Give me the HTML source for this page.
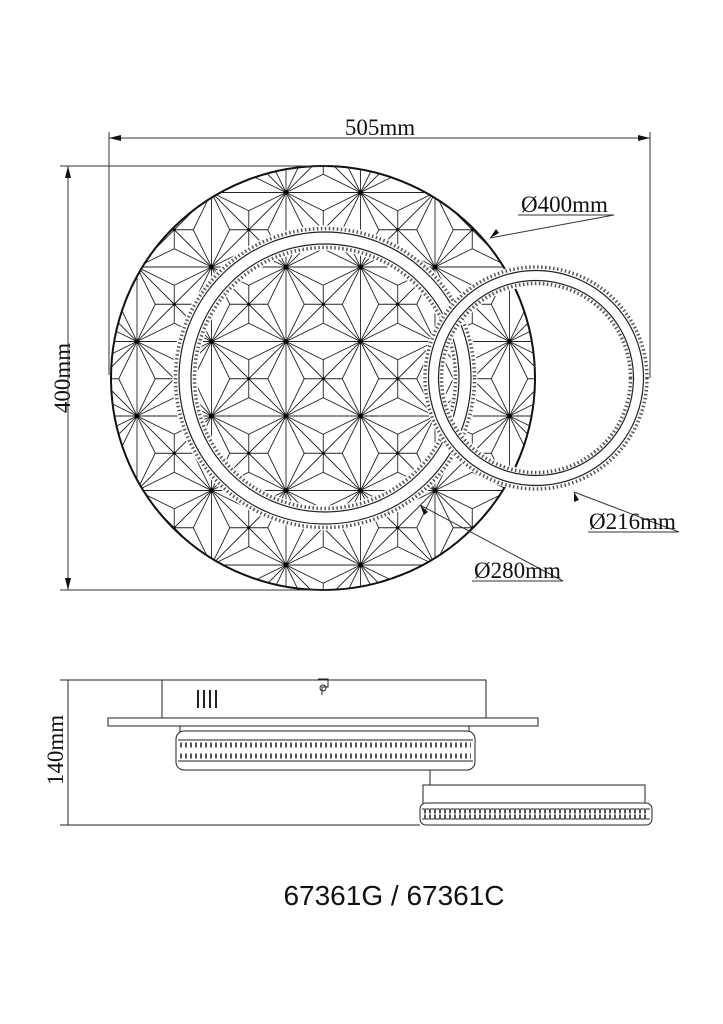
<!DOCTYPE html>
<html><head><meta charset="utf-8"><style>
html,body{margin:0;padding:0;background:#fff}
svg{display:block}
.t{font-family:"Liberation Serif",serif;font-size:23px;fill:#111}
</style></head><body>
<svg width="723" height="1024" viewBox="0 0 723 1024" xmlns="http://www.w3.org/2000/svg">
<defs>
<pattern id="pt" patternUnits="userSpaceOnUse" x="137" y="192.5" width="74.5" height="74.5">
<g stroke="#222" stroke-width="0.9" fill="none">
<path d="M0 0H74.5M0 0V74.5M0 74.5H74.5M74.5 0V74.5"/>
<path d="M0 0L37.25 37.25M74.5 0L37.25 37.25M0 74.5L37.25 37.25M74.5 74.5L37.25 37.25"/>
<path d="M0 0L37.25 18.25L74.5 0M0 0L18.25 37.25L0 74.5M74.5 0L56.25 37.25L74.5 74.5M0 74.5L37.25 56.25L74.5 74.5"/>
<path d="M37.25 18.25V56.25M18.25 37.25H56.25"/>
</g>
<circle cx="0" cy="0" r="2.3" fill="#000"/><circle cx="74.5" cy="0" r="2.3" fill="#000"/>
<circle cx="0" cy="74.5" r="2.3" fill="#000"/><circle cx="74.5" cy="74.5" r="2.3" fill="#000"/>
<circle cx="37.25" cy="37.25" r="1.5" fill="#000"/>
</pattern>
</defs>

<circle cx="323" cy="378" r="212" fill="url(#pt)"/>
<circle cx="323" cy="378" r="212" fill="none" stroke="#111" stroke-width="2"/>

<!-- ring 280 -->
<g fill="none" stroke="#222">
<circle cx="325" cy="378" r="140" stroke="#fff" stroke-width="14"/>
<circle cx="325" cy="378" r="149" stroke="#fff" stroke-width="7"/>
<circle cx="325" cy="378" r="131" stroke="#fff" stroke-width="7"/>
<circle cx="325" cy="378" r="146" stroke-width="1.2"/>
<circle cx="325" cy="378" r="134" stroke-width="1.2"/>
<circle cx="325" cy="378" r="149.5" stroke-width="3.5" stroke-dasharray="1.5 2.5" stroke="#555"/>
<circle cx="325" cy="378" r="130.5" stroke-width="3.5" stroke-dasharray="1.5 2.5" stroke="#555"/>
</g>

<!-- ring 216 -->
<g fill="none" stroke="#222">
<circle cx="536" cy="378" r="102.5" stroke="#fff" stroke-width="11"/>
<circle cx="536" cy="378" r="110" stroke="#fff" stroke-width="7"/>
<circle cx="536" cy="378" r="95" stroke="#fff" stroke-width="7"/>
<circle cx="536" cy="378" r="107.5" stroke-width="1.2"/>
<circle cx="536" cy="378" r="97.5" stroke-width="1.2"/>
<circle cx="536" cy="378" r="111" stroke-width="3.5" stroke-dasharray="1.5 2.5" stroke="#555"/>
<circle cx="536" cy="378" r="94.5" stroke-width="3.5" stroke-dasharray="1.5 2.5" stroke="#555"/>
</g>

<g stroke="#333" stroke-width="1" fill="none">
<path d="M109 132V375M650 132V378M109 138H650"/>
<path d="M60 166H328M60 590H328M68 166V590"/>
<path d="M518 215H614L490 238"/>
<path d="M588 532H679L574 492"/>
<path d="M472 581H563L420 505"/>
</g>
<g fill="#111">
<path d="M109 138l12 -3v6z"/><path d="M650 138l-12 -3v6z"/>
<path d="M68 166l-3 12h6z"/><path d="M68 590l-3 -12h6z"/>
<path d="M490 238l6 -9l3 4z"/>
<path d="M574 492l0 10l5 -2z"/>
<path d="M420 505l4 10l4 -3z"/>
</g>
<text class="t" x="380" y="135" text-anchor="middle">505mm</text>
<text class="t" x="62" y="378" text-anchor="middle" transform="rotate(-90 62 378)" dy="8">400mm</text>
<text class="t" x="521" y="212">Ø400mm</text>
<text class="t" x="589" y="529">Ø216mm</text>
<text class="t" x="474" y="578">Ø280mm</text>

<!-- side view -->
<g stroke="#222" stroke-width="1" fill="none">
<path d="M60 680H162M68 680V825M60 825H420"/>
<rect x="162" y="680" width="324" height="38" fill="#fff"/>
<rect x="108" y="718" width="430" height="8" fill="#fff"/>
<path d="M180 726V734M469 726V734M430 770V785"/>
<rect x="176" y="731" width="299" height="39" rx="8" fill="#fff"/>
<rect x="423" y="785" width="222" height="19" fill="#fff"/>
<rect x="420" y="803" width="232" height="22" rx="6" fill="#fff"/>
<path d="M178 740H473M178 761H473M422 809H650M422 819H650"/>
<path d="M318 679h10v8h-6v8"/>
</g>
<g stroke="#555" stroke-width="5" stroke-dasharray="2 3" fill="none">
<path d="M180 745H471M180 756H471"/>
<path d="M424 811H648M424 817H648"/>
</g>
<g stroke="#222" stroke-width="2">
<path d="M198 690V708M204 690V708M210 690V708M216 690V708"/>
</g>
<circle cx="323" cy="688" r="3" fill="none" stroke="#222"/>
<text class="t" x="55" y="750" text-anchor="middle" transform="rotate(-90 55 750)" dy="8">140mm</text>

<text x="394" y="905" text-anchor="middle" style="font-family:'Liberation Sans',sans-serif;font-size:28px;fill:#111">67361G / 67361C</text>
</svg>
</body></html>
